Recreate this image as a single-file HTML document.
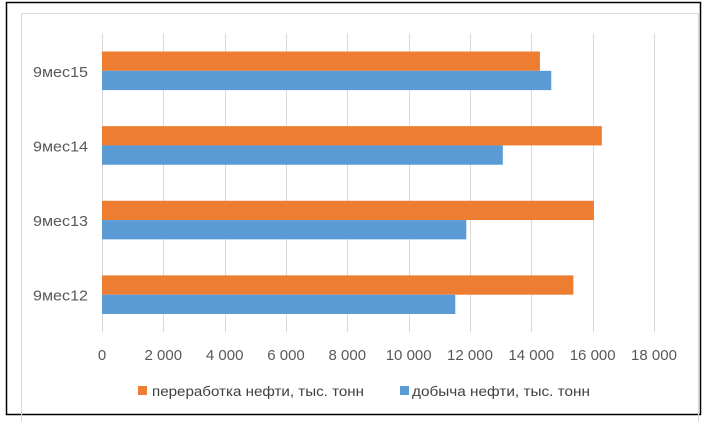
<!DOCTYPE html>
<html><head><meta charset="utf-8"><style>
html,body{margin:0;padding:0;background:#fff;width:708px;height:422px;overflow:hidden}
svg text{font-family:"Liberation Sans",sans-serif;fill:#595959}
</style></head><body>
<svg id="chart" width="708" height="422" xmlns="http://www.w3.org/2000/svg">
<rect x="6.5" y="2.5" width="694" height="412" fill="#fff" stroke="#000" stroke-width="1.5"/>
<rect x="21.5" y="13.5" width="677" height="420" fill="none" stroke="#d9d9d9" stroke-width="1"/>
<g id="grid"></g><g id="bars"></g><g id="labels"></g>
<g>
<rect x="138" y="386" width="9" height="9" fill="#ed7d31"/>
<text x="152" y="396" font-size="14" textLength="212" lengthAdjust="spacingAndGlyphs" style="fill:#404040">переработка нефти, тыс. тонн</text>
<rect x="400" y="386" width="9" height="9" fill="#5b9bd5"/>
<text x="412" y="396" font-size="14" textLength="178" lengthAdjust="spacingAndGlyphs" style="fill:#404040">добыча нефти, тыс. тонн</text>
</g>
</svg>
<script>
const categories = ["9мес12","9мес13","9мес14","9мес15"];
const processing = [15370,16040,16300,14280];
const production = [11520,11880,13070,14650];
const ticks = [0,2000,4000,6000,8000,10000,12000,14000,16000,18000];
const tickLabels = ["0","2 000","4 000","6 000","8 000","10 000","12 000","14 000","16 000","18 000"];
const NS="http://www.w3.org/2000/svg";
const x0=102,x1=654,yTop=33.5,yBot=332;
const xs=v=>x0+(v/18000)*(x1-x0);
const band=(yBot-yTop)/categories.length;
function mk(t,a,p){const e=document.createElementNS(NS,t);for(const k in a)e.setAttribute(k,a[k]);p.appendChild(e);return e;}
const grid=document.getElementById('grid'),bars=document.getElementById('bars'),labels=document.getElementById('labels');
ticks.forEach((t,i)=>{
  const x=Math.round(xs(t))+0.5;
  const l=mk('line',{x1:x,x2:x,y1:yTop,y2:yBot,stroke:'#d9d9d9','stroke-width':1},grid);
  
  
  const tx=mk('text',{x:xs(t),y:360,'font-size':15,'text-anchor':'middle'},labels);
  tx.textContent=tickLabels[i];
  
  
});
const bh=19.3;
categories.forEach((c,i)=>{
  const cy=yBot-band*(i+0.5);
  const o=mk('rect',{x:x0,y:cy-bh,width:xs(processing[i])-x0,height:bh,fill:'#ed7d31'},bars);
  
  
  const b=mk('rect',{x:x0,y:cy,width:xs(production[i])-x0,height:bh,fill:'#5b9bd5'},bars);
  
  
  const t=mk('text',{x:33,y:cy+6,'font-size':15,textLength:55,lengthAdjust:'spacingAndGlyphs'},labels);
  t.textContent=c;
  
  
});
</script>
</body></html>
